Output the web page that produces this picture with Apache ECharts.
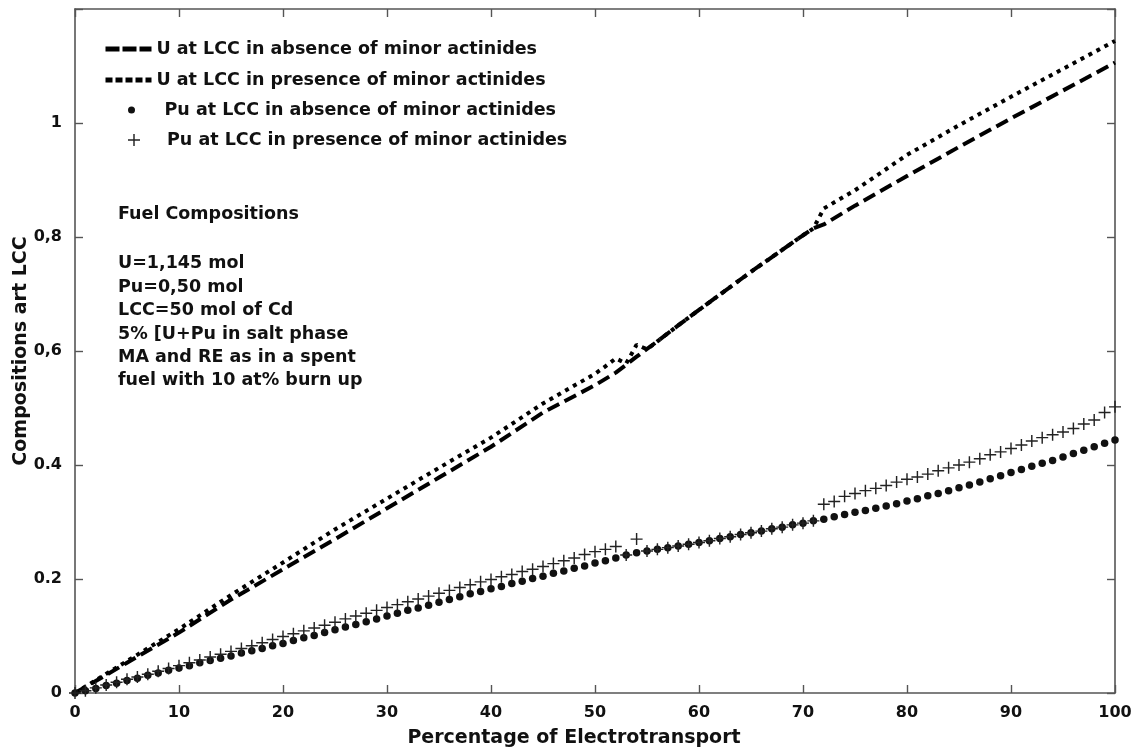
<!DOCTYPE html>
<html>
<head>
<meta charset="utf-8">
<title>Compositions at LCC vs Electrotransport</title>
<script src="https://cdn.jsdelivr.net/npm/echarts@6/dist/echarts.min.js"></script>
<style>
  html, body { margin: 0; padding: 0; background: #fff; }
  #chart { width: 1138px; height: 751px; }
</style>
</head>
<body>
<div id="chart"></div>
<script>
// U at the liquid cadmium cathode (mol) vs percentage of electrotransport
const uX        = [0, 5, 10, 15, 20, 25, 30, 35, 40, 45, 50, 52, 54, 56, 58, 60, 65, 70, 71, 72, 75, 80, 85, 90, 95, 100];
const uAbsent   = [0, 0.053, 0.106, 0.164, 0.217, 0.270, 0.324, 0.378, 0.432, 0.492, 0.540, 0.562, 0.590, 0.617, 0.645, 0.672, 0.739, 0.803, 0.815, 0.822, 0.855, 0.907, 0.958, 1.008, 1.057, 1.106];

const uPresX    = [0, 5, 10, 15, 20, 25, 30, 35, 40, 45, 50, 51, 52, 53, 54, 55, 56, 58, 60, 65, 70, 71, 72, 75, 80, 85, 90, 95, 100];
const uPresent  = [0, 0.056, 0.112, 0.172, 0.229, 0.287, 0.341, 0.395, 0.448, 0.508, 0.560, 0.573, 0.587, 0.578, 0.611, 0.603, 0.617, 0.645, 0.672, 0.739, 0.803, 0.815, 0.850, 0.882, 0.944, 0.996, 1.046, 1.095, 1.144];

// Pu at the cathode, one reading per percent of electrotransport (0..100)
const puAbsent = [
  0.000, 0.004, 0.008, 0.013, 0.017, 0.022, 0.026, 0.031, 0.035, 0.040,
  0.044, 0.048, 0.053, 0.057, 0.061, 0.065, 0.070, 0.074, 0.078, 0.083,
  0.087, 0.092, 0.097, 0.101, 0.106, 0.111, 0.116, 0.120, 0.125, 0.130,
  0.135, 0.140, 0.145, 0.149, 0.154, 0.159, 0.164, 0.169, 0.174, 0.178,
  0.183, 0.187, 0.192, 0.196, 0.201, 0.205, 0.210, 0.214, 0.219, 0.223,
  0.228, 0.232, 0.237, 0.242, 0.246, 0.249, 0.252, 0.255, 0.258, 0.261,
  0.264, 0.267, 0.271, 0.274, 0.278, 0.281, 0.284, 0.288, 0.291, 0.295,
  0.298, 0.302, 0.305, 0.309, 0.313, 0.317, 0.320, 0.324, 0.328, 0.332,
  0.337, 0.341, 0.346, 0.350, 0.355, 0.360, 0.365, 0.370, 0.376, 0.381,
  0.387, 0.392, 0.398, 0.403, 0.408, 0.414, 0.420, 0.426, 0.432, 0.438,
  0.444
];
const puPresent = [
  0.000, 0.004, 0.009, 0.014, 0.019, 0.024, 0.028, 0.033, 0.038, 0.043,
  0.048, 0.053, 0.058, 0.063, 0.068, 0.073, 0.078, 0.083, 0.088, 0.094,
  0.099, 0.104, 0.109, 0.114, 0.119, 0.124, 0.130, 0.135, 0.140, 0.145,
  0.150, 0.155, 0.160, 0.165, 0.170, 0.175, 0.180, 0.185, 0.190, 0.195,
  0.199, 0.204, 0.208, 0.213, 0.217, 0.222, 0.227, 0.232, 0.237, 0.243,
  0.248, 0.252, 0.257, 0.242, 0.270, 0.249, 0.252, 0.255, 0.258, 0.261,
  0.264, 0.267, 0.271, 0.274, 0.278, 0.281, 0.284, 0.288, 0.291, 0.295,
  0.298, 0.302, 0.331, 0.336, 0.345, 0.350, 0.355, 0.359, 0.364, 0.370,
  0.375, 0.379, 0.384, 0.390, 0.395, 0.400, 0.405, 0.411, 0.418, 0.423,
  0.429, 0.435, 0.442, 0.448, 0.453, 0.458, 0.464, 0.472, 0.479, 0.492,
  0.502
];

const seriesNames = [
  'U at LCC in absence of minor actinides',
  'U at LCC in presence of minor actinides',
  'Pu at LCC in absence of minor actinides',
  'Pu at LCC in presence of minor actinides'
];

const xTicks = [0, 10, 20, 30, 40, 50, 60, 70, 80, 90, 100];
const yTickLabels = ['0', '0.2', '0.4', '0,6', '0,8', '1', ''];

const noteLines = [
  'Fuel Compositions',
  '',
  'U=1,145 mol',
  'Pu=0,50 mol',
  'LCC=50 mol of Cd',
  '5% [U+Pu in salt phase',
  'MA and RE as in a spent',
  'fuel with 10 at% burn up'
];

const FONT = '"DejaVu Sans", sans-serif';
const INK = '#111';
const AXIS = '#555';

const pair = (xs, ys) => xs.map((x, i) => [x, ys[i]]);
const byPercent = ys => ys.map((y, i) => [i, y]);

const plusPath = 'path://M4.4,0H5.6V4.4H10V5.6H5.6V10H4.4V5.6H0V4.4H4.4Z';

const axisCommon = {
  type: 'value',
  axisLine: { show: true, onZero: false, lineStyle: { color: AXIS, width: 1.6 } },
  axisTick: { show: true, inside: true, length: 8, lineStyle: { color: AXIS, width: 1.4 } },
  splitLine: { show: false },
  axisLabel: { show: false }
};

const tickFont = { color: INK, fontFamily: FONT, fontWeight: 'bold', fontSize: 16 };
const nameFont = { color: INK, fontFamily: FONT, fontWeight: 'bold', fontSize: 19 };
const textFont = { color: INK, fontFamily: FONT, fontWeight: 'bold', fontSize: 17.5, lineHeight: 20 };

const legendBase = {
  orient: 'vertical',
  itemGap: 11,
  textStyle: textFont
};

const chart = echarts.init(document.getElementById('chart'), null, { renderer: 'canvas' });

chart.setOption({
  backgroundColor: '#fff',
  animation: false,
  grid: { left: 75, right: 23, top: 9, bottom: 58, containLabel: false, outerBoundsMode: 'none' },
  xAxis: [
    Object.assign({}, axisCommon, {
      position: 'bottom', min: 0, max: 100, interval: 10,
      name: 'Percentage of Electrotransport', nameLocation: 'middle', nameGap: 36,
      nameTextStyle: Object.assign({ padding: [0, 42, 0, 0] }, nameFont),
      axisLabel: Object.assign({ show: true, margin: 12,
        formatter: v => (xTicks.indexOf(v) >= 0 ? String(v) : '') }, tickFont)
    }),
    Object.assign({}, axisCommon, { position: 'top', min: 0, max: 100, interval: 10 })
  ],
  yAxis: [
    Object.assign({}, axisCommon, {
      position: 'left', min: 0, max: 1.2, interval: 0.2,
      name: 'Compositions art LCC', nameLocation: 'middle', nameGap: 44,
      nameMoveOverlap: false,
      nameTextStyle: nameFont,
      axisLabel: Object.assign({ show: true, margin: 13,
        formatter: v => yTickLabels[Math.round(v / 0.2)] || '' }, tickFont)
    }),
    Object.assign({}, axisCommon, { position: 'right', min: 0, max: 1.2, interval: 0.2 })
  ],
  legend: [
    Object.assign({}, legendBase, {
      left: 98, top: 34, itemWidth: 46, itemHeight: 14,
      data: [
        { name: seriesNames[0], itemStyle: { opacity: 0 },
          lineStyle: { width: 5, type: [14, 3], cap: 'butt' } },
        { name: seriesNames[1], itemStyle: { opacity: 0 },
          lineStyle: { width: 5, type: [7, 3], cap: 'butt' } }
      ]
    }),
    Object.assign({}, legendBase, {
      left: 123, top: 95, itemWidth: 56, itemHeight: 7,
      data: [seriesNames[2]]
    }),
    Object.assign({}, legendBase, {
      left: 123, top: 125, itemWidth: 56, itemHeight: 12,
      data: [seriesNames[3]]
    })
  ],
  graphic: noteLines.map((t, i) => ({
    type: 'text',
    left: 118,
    top: 205 + i * 23.4 + (i >= 2 ? 3 : 0),
    style: { text: t, fill: INK, font: 'bold 17.5px ' + FONT }
  })),
  series: [
    {
      name: seriesNames[0], type: 'line', showSymbol: false, symbol: 'none',
      data: pair(uX, uAbsent),
      lineStyle: { color: '#000', width: 4, type: [13, 6], cap: 'butt' },
      itemStyle: { color: '#000' }, z: 3
    },
    {
      name: seriesNames[1], type: 'line', showSymbol: false, symbol: 'none',
      data: pair(uPresX, uPresent),
      lineStyle: { color: '#000', width: 4, type: [4, 5], cap: 'butt' },
      itemStyle: { color: '#000' }, z: 3
    },
    {
      name: seriesNames[2], type: 'scatter', symbol: 'circle', symbolSize: 7.5,
      data: byPercent(puAbsent),
      itemStyle: { color: '#111', opacity: 1 }, z: 4
    },
    {
      name: seriesNames[3], type: 'scatter', symbol: plusPath, symbolSize: 12,
      data: byPercent(puPresent),
      itemStyle: { color: '#222', opacity: 1 }, z: 5
    }
  ]
});
</script>
</body>
</html>
